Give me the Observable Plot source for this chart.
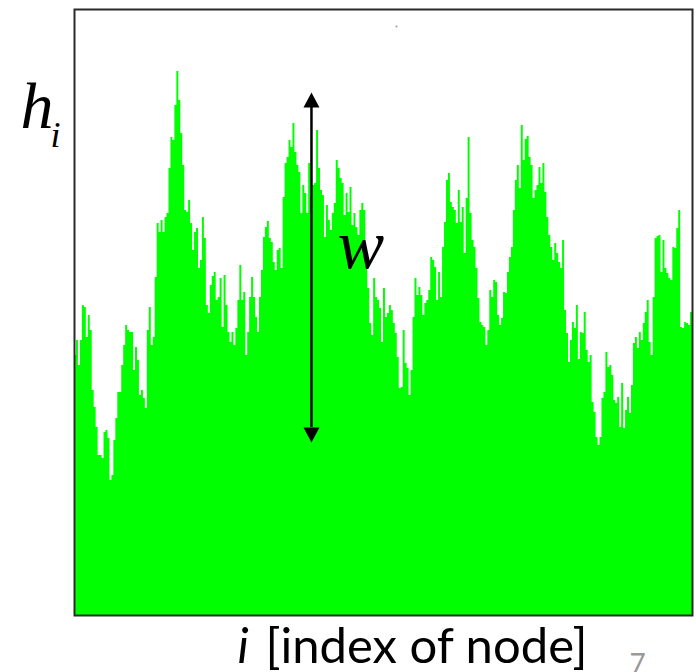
<!DOCTYPE html>
<html><head><meta charset="utf-8">
<script src="https://cdn.jsdelivr.net/npm/d3@7"></script>
<script src="https://cdn.jsdelivr.net/npm/@observablehq/plot@0.6"></script>
<style>html,body{margin:0;padding:0;background:#fff;overflow:hidden}</style>
</head><body><div id="chart"></div>
<script>
// Height h_i of each node (three consecutive stretches of the profile)
const heightsA = [
260,275,250,275,310,308,278,300,285,225,
208,188,160,160,157,183,185,177,135,140,
175,197,223,223,250,270,290,285,283,283,
245,268,255,220,225,217,207,285,308,270,
278,338,392,383,395,383,398,402,447,478,
475,510,544,515,482,450,405,403,415,392,
365,383,387,347,355,398,377,310,302,330,
339,343,315,318,337,288,340,310,283,273,
283,270,287,315,350,315,323,260,283,318,
338,318,298,283,318,345,378,388,394,377,
373,353,345];
const heightsB = [
365,367,347,418,452,458,475,468,492,463,
450,443,402,430,422,402,452,418,430,432,
485,447,425,420,378,410,395,385,402,412,
455,447,437,432,400,422,403,428,390,402,
388,380,405,412,405,358,327,292,280,337,
318,315,307,273,327,298,302,310,305,292,
282,258,227,228,285,252,247,220,245,298,
337,320,328,320,300,312,315,325,358,355,
348,315,343,318,368,393,435,442,413,408,
405,392,425,393,408,362,417,478,402,375,
368];
const heightsC = [
347,317,293,290,288,270,285,325,318,335,
333,300,290,297,323,322,343,358,368,405,
435,450,427,490,455,476,479,458,450,417,
425,430,448,432,452,423,398,380,368,355,
372,362,353,347,375,305,282,253,275,293,
287,310,256,283,282,303,265,253,260,213,
203,178,170,178,217,223,263,248,250,240,
215,212,218,188,232,187,205,218,202,230,
272,278,267,283,275,292,303,315,273,260,
318,377,379,380,343,375,347,342,337,335,
368,367,387,405,288,287,293,292,290,303];

const heights = heightsA.concat(heightsB, heightsC);
const N = heights.length;
const profile = heights.map((h, i) => ({i, h})).concat([{i: N, h: heights[N - 1]}]);

// Annotation: the width w arrow (node index, tip heights, shaft ends)
const arrowNode = [120.4];
const arrowTips = [523, 173];
const arrowShaft = [508, 188];
const strayDot = [{i: 163.6, h: 589}];

const upTri = {draw(c) { c.moveTo(0, 0); c.lineTo(8, 15); c.lineTo(-8, 15); c.closePath(); }};
const downTri = {draw(c) { c.moveTo(0, 0); c.lineTo(8, -15); c.lineTo(-8, -15); c.closePath(); }};

const chart = Plot.plot({
  width: 696,
  height: 672,
  marginLeft: 74,
  marginRight: 4,
  marginTop: 9,
  marginBottom: 57,
  style: {overflow: "hidden", background: "#fff"},
  x: {domain: [0, N], axis: null},
  y: {domain: [0, 606], axis: null},
  marks: [
    Plot.areaY(profile, {x: "i", y: "h", curve: "step-after", fill: "#00ff00"}),
    Plot.frame({stroke: "#2a2a2a", strokeWidth: 2}),
    Plot.dot(strayDot, {x: "i", y: "h", r: 1, fill: "#999", stroke: null}),
    Plot.ruleX(arrowNode, {x: d => d, y1: arrowShaft[0], y2: arrowShaft[1], stroke: "black", strokeWidth: 2.5}),
    Plot.dot(arrowNode, {x: d => d, y: arrowTips[0], symbol: upTri, fill: "black", stroke: null}),
    Plot.dot(arrowNode, {x: d => d, y: arrowTips[1], symbol: downTri, fill: "black", stroke: null}),
    Plot.text(["h"], {frameAnchor: "top-left", dx: -54, dy: 118, textAnchor: "start", lineAnchor: "bottom",
      fontSize: 66, fontStyle: "italic", fontFamily: "Liberation Serif", fill: "black"}),
    Plot.text(["i"], {frameAnchor: "top-left", dx: -24, dy: 137, textAnchor: "start", lineAnchor: "bottom",
      fontSize: 36, fontStyle: "italic", fontFamily: "Liberation Serif", fill: "black"}),
    Plot.text(["w"], {frameAnchor: "top-left", dx: 263, dy: 258, textAnchor: "start", lineAnchor: "bottom",
      fontSize: 70, fontStyle: "italic", fontFamily: "Liberation Serif", fill: "black"}),
    Plot.text(["i"], {frameAnchor: "bottom-left", dx: 163, dy: 47, textAnchor: "start", lineAnchor: "bottom",
      fontSize: 49, fontStyle: "italic", fontFamily: "Lato", fill: "black"}),
    Plot.text(["[index of node]"], {frameAnchor: "bottom-left", dx: 191, dy: 47, textAnchor: "start", lineAnchor: "bottom",
      fontSize: 49, fontFamily: "Lato", fill: "black"}),
    Plot.text(["7"], {frameAnchor: "bottom-left", dx: 555, dy: 58, textAnchor: "start", lineAnchor: "bottom",
      fontSize: 28, fontFamily: "Lato", fill: "#999"})
  ]
});
document.getElementById("chart").appendChild(chart);
</script>
</body></html>
